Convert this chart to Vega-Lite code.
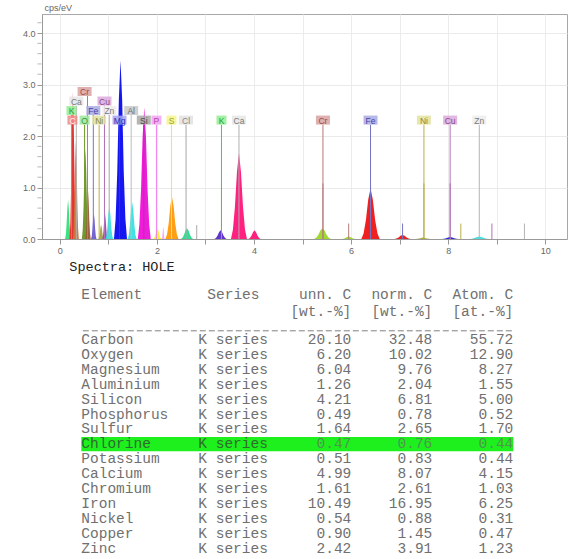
{
"$schema": "https://vega.github.io/schema/vega-lite/v6.json",
"autosize": {"type": "pad"},
"padding": {"left": 21, "top": 2, "right": 0, "bottom": 0},
"background": "white",
"bounds": "flush",
"spacing": 17.6,
"config": {"font": "Liberation Sans"},
"datasets": {
"peaks": [
{"p":"z","x":0.108,"y":0},{"p":"z","x":0.124,"y":0.084},{"p":"z","x":0.139,"y":0.285},{"p":"z","x":0.155,"y":0.593},{"p":"z","x":0.17,"y":0.76},{"p":"z","x":0.185,"y":0.593},{"p":"z","x":0.201,"y":0.285},{"p":"z","x":0.216,"y":0.084},{"p":"z","x":0.232,"y":0},
{"p":"C","x":0.2,"y":0},{"p":"C","x":0.2175,"y":0.314},{"p":"C","x":0.235,"y":1.069},{"p":"C","x":0.2525,"y":2.223},{"p":"C","x":0.27,"y":2.85},{"p":"C","x":0.2875,"y":2.223},{"p":"C","x":0.305,"y":1.069},{"p":"C","x":0.3225,"y":0.314},{"p":"C","x":0.34,"y":0},
{"p":"CaL","x":0.268,"y":0},{"p":"CaL","x":0.284,"y":0.209},{"p":"CaL","x":0.299,"y":0.713},{"p":"CaL","x":0.315,"y":1.482},{"p":"CaL","x":0.33,"y":1.9},{"p":"CaL","x":0.345,"y":1.482},{"p":"CaL","x":0.361,"y":0.713},{"p":"CaL","x":0.376,"y":0.209},{"p":"CaL","x":0.392,"y":0},
{"p":"O","x":0.455,"y":0},{"p":"O","x":0.4725,"y":0.193},{"p":"O","x":0.49,"y":0.656},{"p":"O","x":0.5075,"y":1.365},{"p":"O","x":0.525,"y":1.75},{"p":"O","x":0.5425,"y":1.365},{"p":"O","x":0.56,"y":0.656},{"p":"O","x":0.5775,"y":0.193},{"p":"O","x":0.595,"y":0},
{"p":"CrL","x":0.524,"y":0},{"p":"CrL","x":0.538,"y":0.105},{"p":"CrL","x":0.552,"y":0.356},{"p":"CrL","x":0.566,"y":0.741},{"p":"CrL","x":0.58,"y":0.95},{"p":"CrL","x":0.594,"y":0.741},{"p":"CrL","x":0.608,"y":0.356},{"p":"CrL","x":0.622,"y":0.105},{"p":"CrL","x":0.636,"y":0},
{"p":"FeL","x":0.644,"y":0},{"p":"FeL","x":0.658,"y":0.055},{"p":"FeL","x":0.672,"y":0.188},{"p":"FeL","x":0.686,"y":0.39},{"p":"FeL","x":0.7,"y":0.5},{"p":"FeL","x":0.714,"y":0.39},{"p":"FeL","x":0.728,"y":0.188},{"p":"FeL","x":0.742,"y":0.055},{"p":"FeL","x":0.756,"y":0},
{"p":"NiL","x":0.794,"y":0},{"p":"NiL","x":0.808,"y":0.031},{"p":"NiL","x":0.822,"y":0.105},{"p":"NiL","x":0.836,"y":0.218},{"p":"NiL","x":0.85,"y":0.28},{"p":"NiL","x":0.864,"y":0.218},{"p":"NiL","x":0.878,"y":0.105},{"p":"NiL","x":0.892,"y":0.031},{"p":"NiL","x":0.906,"y":0},
{"p":"CuL","x":0.874,"y":0},{"p":"CuL","x":0.888,"y":0.055},{"p":"CuL","x":0.902,"y":0.188},{"p":"CuL","x":0.916,"y":0.39},{"p":"CuL","x":0.93,"y":0.5},{"p":"CuL","x":0.944,"y":0.39},{"p":"CuL","x":0.958,"y":0.188},{"p":"CuL","x":0.972,"y":0.055},{"p":"CuL","x":0.986,"y":0},
{"p":"ZnL","x":0.942,"y":0},{"p":"ZnL","x":0.961,"y":0.068},{"p":"ZnL","x":0.981,"y":0.233},{"p":"ZnL","x":1.0,"y":0.484},{"p":"ZnL","x":1.02,"y":0.62},{"p":"ZnL","x":1.04,"y":0.484},{"p":"ZnL","x":1.059,"y":0.233},{"p":"ZnL","x":1.079,"y":0.068},{"p":"ZnL","x":1.098,"y":0},
{"p":"Mg","x":1.116,"y":0},{"p":"Mg","x":1.149,"y":0.382},{"p":"Mg","x":1.183,"y":1.301},{"p":"Mg","x":1.216,"y":2.707},{"p":"Mg","x":1.25,"y":3.47},{"p":"Mg","x":1.284,"y":2.707},{"p":"Mg","x":1.317,"y":1.301},{"p":"Mg","x":1.351,"y":0.382},{"p":"Mg","x":1.384,"y":0},
{"p":"Al","x":1.398,"y":0},{"p":"Al","x":1.421,"y":0.079},{"p":"Al","x":1.444,"y":0.27},{"p":"Al","x":1.467,"y":0.562},{"p":"Al","x":1.49,"y":0.72},{"p":"Al","x":1.513,"y":0.562},{"p":"Al","x":1.536,"y":0.27},{"p":"Al","x":1.559,"y":0.079},{"p":"Al","x":1.582,"y":0},
{"p":"Si","x":1.606,"y":0},{"p":"Si","x":1.639,"y":0.282},{"p":"Si","x":1.673,"y":0.96},{"p":"Si","x":1.706,"y":1.997},{"p":"Si","x":1.74,"y":2.56},{"p":"Si","x":1.774,"y":1.997},{"p":"Si","x":1.807,"y":0.96},{"p":"Si","x":1.841,"y":0.282},{"p":"Si","x":1.874,"y":0},
{"p":"P","x":1.926,"y":0},{"p":"P","x":1.947,"y":0.023},{"p":"P","x":1.968,"y":0.079},{"p":"P","x":1.989,"y":0.164},{"p":"P","x":2.01,"y":0.21},{"p":"P","x":2.031,"y":0.164},{"p":"P","x":2.052,"y":0.079},{"p":"P","x":2.073,"y":0.023},{"p":"P","x":2.094,"y":0},
{"p":"P2","x":2.102,"y":0},{"p":"P2","x":2.109,"y":0.026},{"p":"P2","x":2.116,"y":0.09},{"p":"P2","x":2.123,"y":0.187},{"p":"P2","x":2.13,"y":0.24},{"p":"P2","x":2.137,"y":0.187},{"p":"P2","x":2.144,"y":0.09},{"p":"P2","x":2.151,"y":0.026},{"p":"P2","x":2.158,"y":0},
{"p":"S","x":2.176,"y":0},{"p":"S","x":2.209,"y":0.09},{"p":"S","x":2.243,"y":0.308},{"p":"S","x":2.276,"y":0.64},{"p":"S","x":2.31,"y":0.82},{"p":"S","x":2.344,"y":0.64},{"p":"S","x":2.377,"y":0.308},{"p":"S","x":2.411,"y":0.09},{"p":"S","x":2.444,"y":0},
{"p":"Cl","x":2.494,"y":0},{"p":"Cl","x":2.526,"y":0.023},{"p":"Cl","x":2.557,"y":0.079},{"p":"Cl","x":2.589,"y":0.164},{"p":"Cl","x":2.62,"y":0.21},{"p":"Cl","x":2.652,"y":0.164},{"p":"Cl","x":2.683,"y":0.079},{"p":"Cl","x":2.715,"y":0.023},{"p":"Cl","x":2.746,"y":0},
{"p":"K","x":3.184,"y":0},{"p":"K","x":3.216,"y":0.019},{"p":"K","x":3.247,"y":0.064},{"p":"K","x":3.279,"y":0.133},{"p":"K","x":3.31,"y":0.17},{"p":"K","x":3.342,"y":0.133},{"p":"K","x":3.373,"y":0.064},{"p":"K","x":3.405,"y":0.019},{"p":"K","x":3.436,"y":0},
{"p":"Ca","x":3.525,"y":0},{"p":"Ca","x":3.566,"y":0.184},{"p":"Ca","x":3.607,"y":0.626},{"p":"Ca","x":3.649,"y":1.303},{"p":"Ca","x":3.69,"y":1.67},{"p":"Ca","x":3.731,"y":1.303},{"p":"Ca","x":3.773,"y":0.626},{"p":"Ca","x":3.814,"y":0.184},{"p":"Ca","x":3.855,"y":0},{"p":"Ca","x":3.884,"y":0},{"p":"Ca","x":3.916,"y":0.019},{"p":"Ca","x":3.947,"y":0.064},{"p":"Ca","x":3.979,"y":0.133},{"p":"Ca","x":4.01,"y":0.17},{"p":"Ca","x":4.042,"y":0.133},{"p":"Ca","x":4.073,"y":0.064},{"p":"Ca","x":4.105,"y":0.019},{"p":"Ca","x":4.136,"y":0},
{"p":"Cr","x":5.236,"y":0},{"p":"Cr","x":5.28,"y":0.023},{"p":"Cr","x":5.323,"y":0.079},{"p":"Cr","x":5.367,"y":0.164},{"p":"Cr","x":5.41,"y":0.21},{"p":"Cr","x":5.453,"y":0.164},{"p":"Cr","x":5.497,"y":0.079},{"p":"Cr","x":5.54,"y":0.023},{"p":"Cr","x":5.584,"y":0},{"p":"Cr","x":5.81,"y":0},{"p":"Cr","x":5.845,"y":0.006},{"p":"Cr","x":5.88,"y":0.019},{"p":"Cr","x":5.915,"y":0.039},{"p":"Cr","x":5.95,"y":0.05},{"p":"Cr","x":5.985,"y":0.039},{"p":"Cr","x":6.02,"y":0.019},{"p":"Cr","x":6.055,"y":0.006},{"p":"Cr","x":6.09,"y":0},
{"p":"Fe","x":6.21,"y":0},{"p":"Fe","x":6.257,"y":0.108},{"p":"Fe","x":6.305,"y":0.368},{"p":"Fe","x":6.352,"y":0.764},{"p":"Fe","x":6.4,"y":0.98},{"p":"Fe","x":6.448,"y":0.764},{"p":"Fe","x":6.495,"y":0.368},{"p":"Fe","x":6.543,"y":0.108},{"p":"Fe","x":6.59,"y":0},{"p":"Fe","x":6.892,"y":0},{"p":"Fe","x":6.934,"y":0.009},{"p":"Fe","x":6.976,"y":0.03},{"p":"Fe","x":7.018,"y":0.062},{"p":"Fe","x":7.06,"y":0.08},{"p":"Fe","x":7.102,"y":0.062},{"p":"Fe","x":7.144,"y":0.03},{"p":"Fe","x":7.186,"y":0.009},{"p":"Fe","x":7.228,"y":0},
{"p":"Ni","x":7.33,"y":0},{"p":"Ni","x":7.4,"y":0.012},{"p":"Ni","x":7.48,"y":0.03},{"p":"Ni","x":7.56,"y":0.012},{"p":"Ni","x":7.63,"y":0},
{"p":"Cu","x":7.872,"y":0},{"p":"Cu","x":7.914,"y":0.004},{"p":"Cu","x":7.956,"y":0.015},{"p":"Cu","x":7.998,"y":0.031},{"p":"Cu","x":8.04,"y":0.04},{"p":"Cu","x":8.082,"y":0.031},{"p":"Cu","x":8.124,"y":0.015},{"p":"Cu","x":8.166,"y":0.004},{"p":"Cu","x":8.208,"y":0},
{"p":"Zn","x":8.444,"y":0},{"p":"Zn","x":8.493,"y":0.006},{"p":"Zn","x":8.542,"y":0.019},{"p":"Zn","x":8.591,"y":0.039},{"p":"Zn","x":8.64,"y":0.05},{"p":"Zn","x":8.689,"y":0.039},{"p":"Zn","x":8.738,"y":0.019},{"p":"Zn","x":8.787,"y":0.006},{"p":"Zn","x":8.836,"y":0}
],
"lines": [
{"el":"C","x":0.26,"top":2.22},{"el":"O","x":0.51,"top":2.22},{"el":"Ni","x":0.81,"top":2.22},{"el":"Mg","x":1.23,"top":2.22},{"el":"Si","x":1.73,"top":2.22},{"el":"P","x":1.99,"top":2.22},{"el":"S","x":2.3,"top":2.22},{"el":"Cl","x":2.6,"top":2.22},{"el":"K","x":3.33,"top":2.22},{"el":"Ca","x":3.69,"top":2.22},{"el":"Cr","x":5.42,"top":2.22},{"el":"Fe","x":6.4,"top":2.22},{"el":"Ni","x":7.5,"top":2.22},{"el":"Cu","x":8.04,"top":2.22},{"el":"Zn","x":8.64,"top":2.22},
{"el":"K","x":0.24,"top":2.41},{"el":"Fe","x":0.69,"top":2.41},{"el":"Zn","x":1.02,"top":2.41},{"el":"Al","x":1.47,"top":2.41},
{"el":"Ca","x":0.34,"top":2.59},{"el":"Cu","x":0.92,"top":2.59},{"el":"Cr","x":0.57,"top":2.78},
{"el":"K","x":3.33,"top":1.08},{"el":"Cr","x":5.42,"top":1.08},{"el":"Fe","x":6.4,"top":1.08},{"el":"Ni","x":7.5,"top":1.08},{"el":"Cu","x":8.04,"top":1.08},
{"el":"Cl","x":2.82,"top":0.27},{"el":"Cr","x":5.95,"top":0.3},{"el":"Fe","x":7.06,"top":0.3},{"el":"Ni","x":8.26,"top":0.3},{"el":"Cu","x":8.9,"top":0.3},{"el":"Zn","x":9.57,"top":0.3}
],
"labels": [
{"el":"C","x":0.26,"y":2.31},{"el":"O","x":0.51,"y":2.31},{"el":"Ni","x":0.81,"y":2.31},{"el":"Mg","x":1.23,"y":2.31},{"el":"Si","x":1.73,"y":2.31},{"el":"P","x":1.99,"y":2.31},{"el":"S","x":2.3,"y":2.31},{"el":"Cl","x":2.6,"y":2.31},{"el":"K","x":3.33,"y":2.31},{"el":"Ca","x":3.69,"y":2.31},{"el":"Cr","x":5.42,"y":2.31},{"el":"Fe","x":6.4,"y":2.31},{"el":"Ni","x":7.5,"y":2.31},{"el":"Cu","x":8.04,"y":2.31},{"el":"Zn","x":8.64,"y":2.31},
{"el":"K","x":0.24,"y":2.495},{"el":"Fe","x":0.69,"y":2.495},{"el":"Zn","x":1.02,"y":2.495},{"el":"Al","x":1.47,"y":2.495},
{"el":"Ca","x":0.34,"y":2.68},{"el":"Cu","x":0.92,"y":2.68},{"el":"Cr","x":0.51,"y":2.865}
],
"yticks": [
{"v":0.2},{"v":0.4},{"v":0.6},{"v":0.8},{"v":1.2},{"v":1.4},{"v":1.6},{"v":1.8},{"v":2.2},{"v":2.4},{"v":2.6},{"v":2.8},{"v":3.2},{"v":3.4},{"v":3.6},{"v":3.8},{"v":4.2}
],
"table": [
{"r":0,"el":"Carbon","ser":"K series","unn":20.10,"norm":32.48,"atom":55.72},
{"r":1,"el":"Oxygen","ser":"K series","unn":6.20,"norm":10.02,"atom":12.90},
{"r":2,"el":"Magnesium","ser":"K series","unn":6.04,"norm":9.76,"atom":8.27},
{"r":3,"el":"Aluminium","ser":"K series","unn":1.26,"norm":2.04,"atom":1.55},
{"r":4,"el":"Silicon","ser":"K series","unn":4.21,"norm":6.81,"atom":5.00},
{"r":5,"el":"Phosphorus","ser":"K series","unn":0.49,"norm":0.78,"atom":0.52},
{"r":6,"el":"Sulfur","ser":"K series","unn":1.64,"norm":2.65,"atom":1.70},
{"r":7,"el":"Chlorine","ser":"K series","unn":0.47,"norm":0.76,"atom":0.44},
{"r":8,"el":"Potassium","ser":"K series","unn":0.51,"norm":0.83,"atom":0.44},
{"r":9,"el":"Calcium","ser":"K series","unn":4.99,"norm":8.07,"atom":4.15},
{"r":10,"el":"Chromium","ser":"K series","unn":1.61,"norm":2.61,"atom":1.03},
{"r":11,"el":"Iron","ser":"K series","unn":10.49,"norm":16.95,"atom":6.25},
{"r":12,"el":"Nickel","ser":"K series","unn":0.54,"norm":0.88,"atom":0.31},
{"r":13,"el":"Copper","ser":"K series","unn":0.90,"norm":1.45,"atom":0.47},
{"r":14,"el":"Zinc","ser":"K series","unn":2.42,"norm":3.91,"atom":1.23}
],
"hdr": [
{"r":-3,"a":"Element","b":"Series","c":"unn. C","d":"norm. C","e":"Atom. C"},
{"r":-1.9,"a":"","b":"","c":"[wt.-%]","d":"[wt.-%]","e":"[at.-%]"}
]
},
"vconcat": [
{
"width": 525, "height": 225,
"view": {"stroke": "#a8a8a8"},
"layer": [
{"data": {"name": "peaks"}, "mark": {"type": "area", "opacity": 0.95},
 "encoding": {
  "x": {"field": "x", "type": "quantitative", "scale": {"domain": [-0.367, 10.447], "nice": false, "zero": false},
   "axis": {"title": null, "values": [0,0.5,1,1.5,2,2.5,3,3.5,4,4.5,5,5.5,6,6.5,7,7.5,8,8.5,9,9.5,10],
    "labelExpr": "datum.value % 2 === 0 ? format(datum.value, 'd') : ''", "labelFontSize": 9, "labelColor": "#666", "labelPadding": 2,
    "labelFlush": false, "labelOverlap": false, "tickColor": "#999", "domainColor": "#999",
    "tickSize": {"condition": {"test": "datum.value % 1 === 0", "value": 5}, "value": 3},
    "grid": true, "gridColor": "#ececec"}},
  "y": {"field": "y", "type": "quantitative", "stack": null, "scale": {"domain": [0, 4.37], "nice": false},
   "axis": {"title": "cps/eV", "titleAngle": 0, "titleAlign": "left", "titleBaseline": "bottom", "titleX": 2, "titleY": -2,
    "titleFontSize": 9, "titleFontWeight": "normal", "titleColor": "#666",
    "values": [0,1,2,3,4], "format": ".1f", "labelFontSize": 9, "labelColor": "#666", "labelPadding": 2,
    "labelOverlap": false, "tickColor": "#999", "domainColor": "#999", "tickSize": 5,
    "grid": true, "gridColor": "#eaeaea"}},
  "color": {"field": "p", "type": "nominal", "legend": null,
   "scale": {"domain": ["z","C","CaL","O","CrL","FeL","NiL","CuL","ZnL","Mg","Al","Si","P","P2","S","Cl","K","Ca","Cr","Fe","Ni","Cu","Zn"],
    "range": ["#2fe07a","#ff1c1c","#c8783a","#6f8f26","#9a5a3a","#6a5acd","#a8a048","#9a48c0","#38e0e0","#0a0af0","#38e0e0","#ee10d8","#ffee30","#ff9cf0","#ff9a08","#28dc8c","#5a28cc","#ff1478","#9ad828","#f01414","#a8a830","#2020d8","#40dede"]}}
 }},
{"data": {"name": "yticks"}, "mark": {"type": "tick", "orient": "horizontal", "color": "#999", "size": 4, "thickness": 1, "xOffset": -2.5},
 "encoding": {
  "x": {"datum": -0.367, "type": "quantitative"},
  "y": {"field": "v", "type": "quantitative"}
 }},
{"data": {"name": "lines"}, "mark": {"type": "rule", "strokeWidth": 1},
 "encoding": {
  "x": {"field": "x", "type": "quantitative"},
  "y": {"field": "top", "type": "quantitative"},
  "y2": {"datum": 0},
  "color": {"field": "el", "type": "nominal", "legend": null,
   "scale": {"domain": ["C","O","Ni","Mg","Si","P","S","Cl","K","Ca","Cr","Fe","Cu","Zn","Al"],
    "range": ["#e03a3a","#6f9a2a","#b8b048","#3030d0","#a838a8","#f080f0","#f0e850","#a8a8a8","#40d040","#b0b0b0","#b87a7a","#7474c4","#b070b8","#b4b4b4","#bcbcbc"]}}
 }},
{"data": {"name": "labels"}, "transform": [{"filter": "length(datum.el) == 1"}],
 "mark": {"type": "point", "shape": "M-1,-0.9H1V0.9H-1Z", "size": 100, "filled": true, "strokeWidth": 0, "opacity": 0.85},
 "encoding": {
  "x": {"field": "x", "type": "quantitative"},
  "y": {"field": "y", "type": "quantitative"},
  "fill": {"field": "el", "type": "nominal", "legend": null,
   "scale": {"domain": ["C","O","Ni","Mg","Si","P","S","Cl","K","Ca","Cr","Fe","Cu","Zn","Al"],
    "range": ["#f08a8a","#9ee89e","#e2e2a2","#a4a4f0","#a8a8a8","#f0a4f0","#f4f48c","#e2e2e2","#92ee92","#e6e6e6","#d8a2a2","#aaaae2","#dcaadc","#ececec","#c8c8c8"]}}
 }},
{"data": {"name": "labels"}, "transform": [{"filter": "length(datum.el) == 2"}],
 "mark": {"type": "point", "shape": "M-1.4,-0.9H1.4V0.9H-1.4Z", "size": 100, "filled": true, "strokeWidth": 0, "opacity": 0.85},
 "encoding": {
  "x": {"field": "x", "type": "quantitative"},
  "y": {"field": "y", "type": "quantitative"},
  "fill": {"field": "el", "type": "nominal", "legend": null,
   "scale": {"domain": ["C","O","Ni","Mg","Si","P","S","Cl","K","Ca","Cr","Fe","Cu","Zn","Al"],
    "range": ["#f08a8a","#9ee89e","#e2e2a2","#a4a4f0","#a8a8a8","#f0a4f0","#f4f48c","#e2e2e2","#92ee92","#e6e6e6","#d8a2a2","#aaaae2","#dcaadc","#ececec","#c8c8c8"]}}
 }},
{"data": {"name": "labels"},
 "mark": {"type": "text", "fontSize": 8.5, "font": "Liberation Sans", "align": "center", "baseline": "middle", "dy": 0.5},
 "encoding": {
  "x": {"field": "x", "type": "quantitative"},
  "y": {"field": "y", "type": "quantitative"},
  "text": {"field": "el"},
  "color": {"field": "el", "type": "nominal", "legend": null,
   "scale": {"domain": ["C","O","Ni","Mg","Si","P","S","Cl","K","Ca","Cr","Fe","Cu","Zn","Al"],
    "range": ["#fff0f0","#3e9a3e","#86863a","#2c2cb0","#4a4a4a","#b040b0","#a0a028","#888888","#2a9a2a","#7a7a7a","#9a4a4a","#4444a8","#8a4a8a","#7a7a7a","#6a6a6a"]}}
 }}
],
"resolve": {"scale": {"color": "independent", "fill": "independent"}}
},
{
"width": 525, "height": 301,
"view": {"stroke": null},
"layer": [
{"data": {"values": [{"r": 7}]},
 "mark": {"type": "rect", "color": "#1ef01e"},
 "encoding": {
  "x": {"datum": 0, "type": "quantitative", "scale": {"domain": [-4.367, 53.967], "nice": false, "zero": false}, "axis": null},
  "x2": {"datum": 48},
  "y": {"datum": 6.5, "type": "quantitative", "scale": {"domain": [-5.6, 14.6], "reverse": true, "nice": false, "zero": false}, "axis": null},
  "y2": {"datum": 7.47}
 }},
{"data": {"values": [{"r": -0.62}]},
 "mark": {"type": "rule", "color": "#808080", "strokeWidth": 1, "strokeDash": [6, 3], "strokeDashOffset": -1.5},
 "encoding": {"x": {"datum": 0}, "x2": {"datum": 48}, "y": {"field": "r", "type": "quantitative"}}},
{"data": {"values": [{"t": "Spectra: HOLE", "r": -4.9}]},
 "mark": {"type": "text", "font": "Liberation Mono", "fontSize": 13.5, "align": "left", "baseline": "middle", "color": "#222"},
 "encoding": {"x": {"datum": -1.33}, "y": {"field": "r", "type": "quantitative"}, "text": {"field": "t"}}},
{"data": {"name": "hdr"},
 "mark": {"type": "text", "font": "Liberation Mono", "fontSize": 14.5, "align": "left", "baseline": "middle", "color": "#707070"},
 "encoding": {"x": {"datum": 0}, "y": {"field": "r", "type": "quantitative"}, "text": {"field": "a"}}},
{"data": {"name": "hdr"},
 "mark": {"type": "text", "font": "Liberation Mono", "fontSize": 14.5, "align": "left", "baseline": "middle", "color": "#707070"},
 "encoding": {"x": {"datum": 14}, "y": {"field": "r", "type": "quantitative"}, "text": {"field": "b"}}},
{"data": {"name": "hdr"},
 "mark": {"type": "text", "font": "Liberation Mono", "fontSize": 14.5, "align": "right", "baseline": "middle", "color": "#707070"},
 "encoding": {"x": {"datum": 30}, "y": {"field": "r", "type": "quantitative"}, "text": {"field": "c"}}},
{"data": {"name": "hdr"},
 "mark": {"type": "text", "font": "Liberation Mono", "fontSize": 14.5, "align": "right", "baseline": "middle", "color": "#707070"},
 "encoding": {"x": {"datum": 39}, "y": {"field": "r", "type": "quantitative"}, "text": {"field": "d"}}},
{"data": {"name": "hdr"},
 "mark": {"type": "text", "font": "Liberation Mono", "fontSize": 14.5, "align": "right", "baseline": "middle", "color": "#707070"},
 "encoding": {"x": {"datum": 48}, "y": {"field": "r", "type": "quantitative"}, "text": {"field": "e"}}},
{"data": {"name": "table"},
 "mark": {"type": "text", "font": "Liberation Mono", "fontSize": 14.5, "align": "left", "baseline": "middle"},
 "encoding": {"x": {"datum": 0}, "y": {"field": "r", "type": "quantitative"}, "text": {"field": "el"},
  "color": {"condition": {"test": "datum.r === 7", "value": "#2e6b2e"}, "value": "#707070"}}},
{"data": {"name": "table"},
 "mark": {"type": "text", "font": "Liberation Mono", "fontSize": 14.5, "align": "left", "baseline": "middle"},
 "encoding": {"x": {"datum": 13}, "y": {"field": "r", "type": "quantitative"}, "text": {"field": "ser"},
  "color": {"condition": {"test": "datum.r === 7", "value": "#2e6b2e"}, "value": "#707070"}}},
{"data": {"name": "table"},
 "mark": {"type": "text", "font": "Liberation Mono", "fontSize": 14.5, "align": "right", "baseline": "middle"},
 "encoding": {"x": {"datum": 30}, "y": {"field": "r", "type": "quantitative"}, "text": {"field": "unn", "type": "quantitative", "format": ".2f"},
  "color": {"condition": {"test": "datum.r === 7", "value": "#4e964e"}, "value": "#707070"}}},
{"data": {"name": "table"},
 "mark": {"type": "text", "font": "Liberation Mono", "fontSize": 14.5, "align": "right", "baseline": "middle"},
 "encoding": {"x": {"datum": 39}, "y": {"field": "r", "type": "quantitative"}, "text": {"field": "norm", "type": "quantitative", "format": ".2f"},
  "color": {"condition": {"test": "datum.r === 7", "value": "#4e964e"}, "value": "#707070"}}},
{"data": {"name": "table"},
 "mark": {"type": "text", "font": "Liberation Mono", "fontSize": 14.5, "align": "right", "baseline": "middle"},
 "encoding": {"x": {"datum": 48}, "y": {"field": "r", "type": "quantitative"}, "text": {"field": "atom", "type": "quantitative", "format": ".2f"},
  "color": {"condition": {"test": "datum.r === 7", "value": "#4e964e"}, "value": "#707070"}}}
]
}
]
}
